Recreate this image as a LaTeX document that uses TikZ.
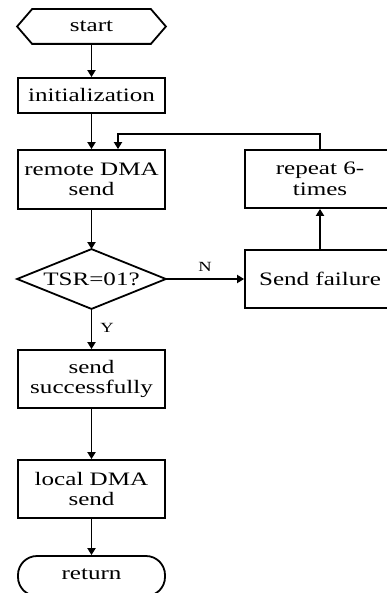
\documentclass[tikz,border=0pt]{standalone}
\usepackage{fontspec}
\setmainfont[FakeStretch=1.32]{Liberation Serif}
\usetikzlibrary{arrows.meta}
\begin{document}
\begin{tikzpicture}[x=1pt,y=-1pt,
  line width=1.8pt,
  box/.style={draw, rectangle, inner sep=0pt, minimum width=147pt, align=center,
    font=\fontsize{19}{20.5}\selectfont},
  rbox/.style={box, minimum width=150pt, minimum height=58pt},
  plain/.style={rectangle, inner sep=0pt, minimum width=147pt, align=center,
    font=\fontsize{19}{20.5}\selectfont},
  lbl/.style={inner sep=0pt, font=\fontsize{14}{14}\selectfont},
  arr/.style={-{Triangle[length=7pt,width=8pt]}}]
\useasboundingbox (0,0) rectangle (387,593);
\clip (0,0) rectangle (387,593);
% nodes
\node[plain, minimum height=33pt] (start) at (91.5,26.5) {start};
\draw (start.west) -- ([xshift=15pt]start.north west) -- ([xshift=-15pt]start.north east)
  -- (start.east) -- ([xshift=-15pt]start.south east) -- ([xshift=15pt]start.south west) -- cycle;
\node[box, minimum height=35pt] (init) at (91.5,95.5) {initialization};
\node[box, minimum height=59pt] (rem) at (91.5,179.5) {remote DMA\\send};
\node[plain, minimum height=58pt] (dec) at (91.5,279) {TSR=01?};
\draw (dec.north) -- (dec.east) -- (dec.south) -- (dec.west) -- cycle;
\node[box, minimum height=58pt] (succ) at (91.5,379) {send\\successfully};
\node[box, minimum height=58pt] (loc) at (91.5,489) {local DMA\\send};
\node[box, minimum height=40pt, rounded corners=19pt] (ret) at (91.5,576) {\raisebox{3pt}{return}};
\node[rbox] (fail) at (320,279) {Send failure};
\node[rbox] (rep) at (320,179) {repeat 6-\\times};
\node[lbl] (n) at (205,267) {N};
\node[lbl] (y) at (107,328) {Y};
% connectors
\draw[arr] (start.south) -- (init.north);
\draw[arr] (init.south) -- (rem.north);
\draw[arr] (rem.south) -- (dec.north);
\draw[arr] (dec.east) -- (fail.west);
\draw[arr] (dec.south) -- (succ.north);
\draw[arr] (succ.south) -- (loc.north);
\draw[arr] (loc.south) -- (ret.north);
\draw[arr] (fail.north) -- (rep.south);
\draw[arr] (rep.north) -- ++(0,-15) -| ([xshift=26.5pt]rem.north);
\end{tikzpicture}
\end{document}
